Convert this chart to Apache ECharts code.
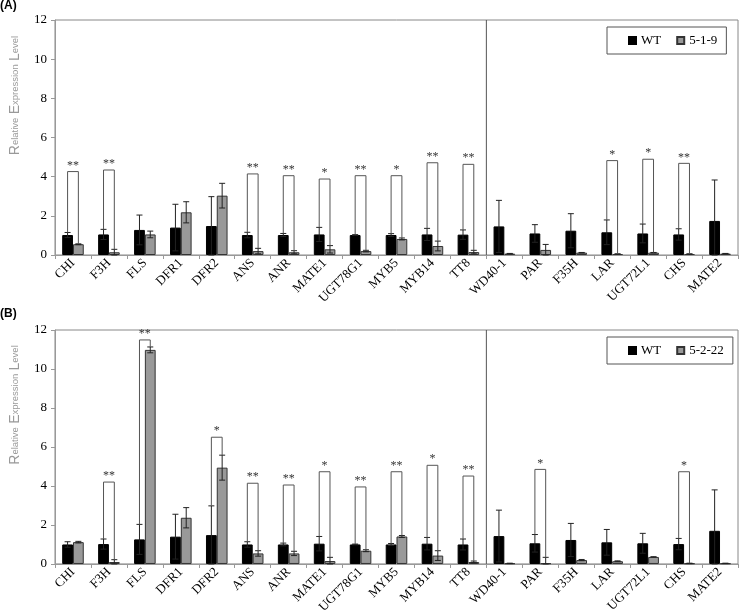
<!DOCTYPE html>
<html>
<head>
<meta charset="utf-8">
<script src="https://cdn.jsdelivr.net/npm/echarts@6/dist/echarts.min.js"></script>
<style>html,body{margin:0;padding:0;background:#fff}#c{width:740px;height:616px}</style>
</head>
<body>
<div id="c"></div>
<script>
const categories = ['CHI','F3H','FLS','DFR1','DFR2','ANS','ANR','MATE1','UGT78G1','MYB5','MYB14','TT8','WD40-1','PAR','F35H','LAR','UGT72L1','CHS','MATE2'];
const yTicks = [0, 2, 4, 6, 8, 10, 12];
const dividerAfter = 'TT8';

// Panel A: WT vs 5-1-9
const mutNameA = '5-1-9';
const wtA     = [1.02,1.05,1.28,1.40,1.48,1.02,1.02,1.05,1.02,1.02,1.05,1.04,1.46,1.10,1.24,1.16,1.10,1.05,1.74];
const wtAErr  = [0.13,0.26,0.76,1.19,1.50,0.14,0.08,0.36,0.02,0.07,0.31,0.24,1.33,0.45,0.87,0.63,0.48,0.29,2.09];
const mutA    = [0.55,0.14,1.05,2.18,3.03,0.20,0.14,0.29,0.20,0.82,0.46,0.15,0.07,0.26,0.12,0.05,0.12,0.05,0.07];
const mutAErr = [0.02,0.15,0.17,0.54,0.63,0.14,0.08,0.19,0.04,0.05,0.25,0.09,0.01,0.28,0.01,0.01,0.01,0.01,0.01];
const sigTopA   = [4.26,4.34,null,null,null,4.14,4.05,3.88,4.05,4.05,4.71,4.63,null,null,null,4.82,4.89,4.68,null];
const sigLabelA = ['**','**','','','','**','**','*','**','*','**','**','','','','*','*','**',''];

// Panel B: WT vs 5-2-22
const mutNameB = '5-2-22';
const wtB     = [1.00,1.02,1.26,1.40,1.48,1.00,1.00,1.04,1.00,1.00,1.04,1.00,1.43,1.06,1.23,1.11,1.06,1.02,1.70];
const wtBErr  = [0.14,0.26,0.77,1.15,1.50,0.14,0.07,0.37,0.02,0.05,0.32,0.28,1.33,0.45,0.85,0.66,0.51,0.29,2.10];
const mutB    = [1.12,0.10,10.98,2.37,4.94,0.54,0.54,0.15,0.68,1.41,0.43,0.10,0.03,0.03,0.20,0.14,0.36,0.03,0.03];
const mutBErr = [0.04,0.12,0.15,0.52,0.64,0.14,0.11,0.19,0.05,0.05,0.25,0.05,0.01,0.31,0.03,0.02,0.01,0.01,0.01];
const sigTopB   = [null,4.20,11.49,null,6.50,4.14,4.05,4.73,3.95,4.73,5.06,4.51,null,4.85,null,null,null,4.73,null];
const sigLabelB = ['','**','**','','*','**','**','*','**','**','*','**','','*','','','','*',''];

const BAR_FRAC = 0.30;
const serif = '"Liberation Serif","Times New Roman",serif';
const sans = '"Liberation Sans",Arial,sans-serif';

function errData(vals, errs) { return vals.map((v, i) => [i, v, errs[i]]); }
function errSeries(name, gi, vals, errs, sign) {
  return {
    name: name, type: 'custom', xAxisIndex: gi, yAxisIndex: gi, z: 5,
    data: errData(vals, errs), encode: { x: 0, y: [1, 2] },
    renderItem: function (params, api) {
      const idx = api.value(0), v = api.value(1), e = api.value(2);
      const band = api.size([1, 0])[0];
      const bw = band * BAR_FRAC;
      const cx = api.coord([idx, 0])[0] + sign * bw / 2;
      const yt = api.coord([idx, v + e])[1];
      const yb = api.coord([idx, Math.max(v - e, 0)])[1];
      const hw = 3;
      const st = { stroke: '#222', lineWidth: 1 };
      return { type: 'group', children: [
        { type: 'line', shape: { x1: cx, y1: yt, x2: cx, y2: yb }, style: st },
        { type: 'line', shape: { x1: cx - hw, y1: yt, x2: cx + hw, y2: yt }, style: st },
        { type: 'line', shape: { x1: cx - hw, y1: yb, x2: cx + hw, y2: yb }, style: st }
      ]};
    }
  };
}
function sigSeries(gi, wt, wtErr, mut, mutErr, tops, labels) {
  const data = [];
  tops.forEach((t, i) => { if (t != null) data.push([i, wt[i] + wtErr[i], mut[i] + mutErr[i], t]); });
  return {
    name: 'sig' + gi, type: 'custom', xAxisIndex: gi, yAxisIndex: gi, z: 6,
    data: data, encode: { x: 0, y: [1, 2, 3] },
    renderItem: function (params, api) {
      const idx = api.value(0);
      const band = api.size([1, 0])[0];
      const bw = band * BAR_FRAC;
      const c = api.coord([idx, 0])[0];
      const xl = c - bw / 2, xr = c + bw / 2;
      const yl = api.coord([idx, api.value(1)])[1];
      const yr = api.coord([idx, api.value(2)])[1];
      const yt = api.coord([idx, api.value(3)])[1];
      const st = { stroke: '#555', lineWidth: 1, fill: null };
      return { type: 'group', children: [
        { type: 'polyline', shape: { points: [[xl, yl], [xl, yt], [xr, yt], [xr, yr]] }, style: st },
        { type: 'text', style: { text: labels[idx], x: c, y: yt, align: 'center', verticalAlign: 'bottom',
          font: '12px ' + serif, fill: '#333' } }
      ]};
    }
  };
}
function dividerSeries(gi) {
  const k = categories.indexOf(dividerAfter);
  return {
    name: 'div' + gi, type: 'custom', xAxisIndex: gi, yAxisIndex: gi, z: 4,
    data: [[k, yTicks[0], yTicks[yTicks.length - 1]]], encode: { x: 0, y: [1, 2] },
    renderItem: function (params, api) {
      const i = api.value(0);
      const x = (api.coord([i, 0])[0] + api.coord([i + 1, 0])[0]) / 2;
      const y0 = api.coord([i, api.value(1)])[1];
      const y1 = api.coord([i, api.value(2)])[1];
      return { type: 'line', shape: { x1: x, y1: y0, x2: x, y2: y1 }, style: { stroke: '#555', lineWidth: 1 } };
    }
  };
}

function xAxisCfg(gi) {
  return {
    type: 'category', gridIndex: gi, data: categories,
    axisLine: { lineStyle: { color: '#999', width: 1 } },
    axisTick: { show: true, length: 4, lineStyle: { color: '#999' } },
    axisLabel: {
      rotate: 45, interval: 0, margin: 6,
      formatter: function (v) { return '{t|' + v + '}'; },
      rich: { t: { fontFamily: serif, fontSize: 13, color: '#000' } }
    }
  };
}
function yAxisCfg(gi) {
  return {
    type: 'value', gridIndex: gi, min: yTicks[0], max: yTicks[yTicks.length - 1], interval: yTicks[1] - yTicks[0],
    splitLine: { show: false },
    axisLine: { show: true, lineStyle: { color: '#999' } },
    axisTick: { show: true, length: 4, lineStyle: { color: '#999' } },
    axisLabel: { fontFamily: serif, fontSize: 13, color: '#000', margin: 8 },
    name: '{c|R}{s|elative} {c|E}{s|xpression} {c|L}{s|evel}',
    nameLocation: 'middle', nameRotate: 90, nameGap: 33,
    nameTextStyle: { color: '#999', padding: [0, 0, 0, 84], rich: {
      c: { fontFamily: sans, fontSize: 14, color: '#999' },
      s: { fontFamily: sans, fontSize: 9.5, color: '#999' }
    } }
  };
}
function legendCfg(top, mutName) {
  return {
    data: ['WT', mutName], left: 607, top: top, orient: 'horizontal',
    padding: [7, 9, 7, 21], itemGap: 15, itemWidth: 7, itemHeight: 7, icon: 'rect',
    borderColor: '#555', borderWidth: 1,
    textStyle: { fontFamily: serif, fontSize: 13, color: '#000' }
  };
}
function barSeries(name, gi, vals, color, border) {
  return {
    name: name, type: 'bar', xAxisIndex: gi, yAxisIndex: gi, data: vals,
    barWidth: (BAR_FRAC * 100) + '%', barGap: '0%',
    itemStyle: { color: color, borderColor: border, borderWidth: 1 }
  };
}

const option = {
  animation: false,
  graphic: [
    { type: 'text', left: 0, top: 0, style: { text: '(A)', font: 'bold 12px ' + sans, fill: '#000' } },
    { type: 'text', left: 0, top: 308, style: { text: '(B)', font: 'bold 12px ' + sans, fill: '#000' } }
  ],
  grid: [
    { left: 49, top: 20, right: 2, height: 235, show: true, borderColor: '#888', borderWidth: 1 },
    { left: 49, top: 330, right: 2, height: 235, show: true, borderColor: '#888', borderWidth: 1 }
  ],
  legend: [legendCfg(27, mutNameA), legendCfg(337, mutNameB)],
  xAxis: [xAxisCfg(0), xAxisCfg(1)],
  yAxis: [yAxisCfg(0), yAxisCfg(1)],
  series: [
    barSeries('WT', 0, wtA, '#000', '#000'),
    barSeries(mutNameA, 0, mutA, '#999', '#333'),
    errSeries('errWtA', 0, wtA, wtAErr, -1),
    errSeries('errMutA', 0, mutA, mutAErr, 1),
    sigSeries(0, wtA, wtAErr, mutA, mutAErr, sigTopA, sigLabelA),
    dividerSeries(0),
    barSeries('WT', 1, wtB, '#000', '#000'),
    barSeries(mutNameB, 1, mutB, '#999', '#333'),
    errSeries('errWtB', 1, wtB, wtBErr, -1),
    errSeries('errMutB', 1, mutB, mutBErr, 1),
    sigSeries(1, wtB, wtBErr, mutB, mutBErr, sigTopB, sigLabelB),
    dividerSeries(1)
  ]
};
const chart = echarts.init(document.getElementById('c'));
chart.setOption(option);
</script>
</body>
</html>
